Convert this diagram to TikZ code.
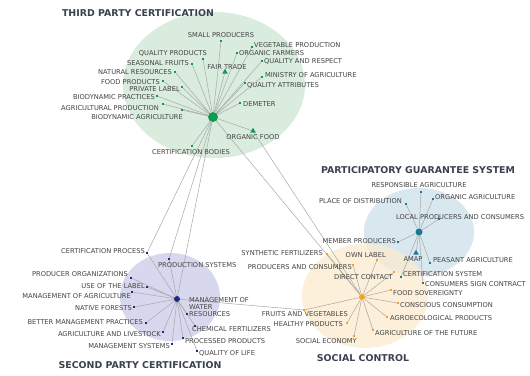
\documentclass[tikz,border=0pt]{standalone}
\usepackage{fontspec}
\setmainfont{DejaVu Sans}
\usetikzlibrary{shapes.geometric}
\definecolor{gfill}{HTML}{D9ECDE}
\definecolor{bfill}{HTML}{D9E7EF}
\definecolor{ofill}{HTML}{FDEBD0}
\definecolor{pfill}{HTML}{D7D8EE}
\definecolor{ghub}{HTML}{12994F}
\definecolor{bhub}{HTML}{1C7896}
\definecolor{ohub}{HTML}{F5A321}
\definecolor{phub}{HTML}{1E2A84}
\definecolor{edgec}{HTML}{A8A8A8}
\definecolor{labc}{HTML}{444444}
\definecolor{titc}{HTML}{3B4150}
\pgfdeclarelayer{bg}
\pgfdeclarelayer{edges}
\pgfsetlayers{bg,edges,main}
\tikzset{
  edge/.style={draw=edgec, line width=0.5pt},
  lbl/.style={inner sep=0pt, text=labc, font=\fontsize{6.7}{7}\selectfont, text height=4.9pt, text depth=0pt},
  ttl/.style={inner sep=0pt, text=titc, font=\fontsize{9.4}{11}\selectfont\bfseries},
  sq/.style={rectangle, inner sep=0pt, minimum size=1.9pt},
  gdot/.style={sq, fill=ghub},
  bdot/.style={sq, fill=bhub},
  odot/.style={sq, fill=ohub},
  pdot/.style={sq, fill=phub},
  hubnode/.style={circle, inner sep=0pt},
  tri/.style={regular polygon, regular polygon sides=3, inner sep=0pt, minimum size=6.5pt}
}
\begin{document}
\begin{tikzpicture}[x=1pt,y=-1pt]
\useasboundingbox (0,0) rectangle (530,375);
\begin{pgfonlayer}{bg}
\fill[white] (0,0) rectangle (530,375);
\fill[gfill] (214,85) ellipse [x radius=91, y radius=73];
\fill[bfill] (419,232) ellipse [x radius=55, y radius=44];
\fill[ofill, fill opacity=0.75] (365,296) ellipse [x radius=63, y radius=52];
\fill[pfill] (170,297) ellipse [x radius=50, y radius=44];
\end{pgfonlayer}

% titles
\node[ttl] (t1) at (138,13) {THIRD PARTY CERTIFICATION};
\node[ttl] (t2) at (418,170) {PARTICIPATORY GUARANTEE SYSTEM};
\node[ttl] (t3) at (140,365) {SECOND PARTY CERTIFICATION};
\node[ttl] (t4) at (363,358) {SOCIAL CONTROL};

% hubs
\node[hubnode, fill=ghub, minimum size=10pt] (G) at (213,117) {};
\node[hubnode, fill=bhub, minimum size=7pt] (B) at (419,232) {};
\node[hubnode, fill=ohub, minimum size=6pt] (O) at (362,297) {};
\node[hubnode, fill=phub, minimum size=6pt] (P) at (177,299) {};

% third party leaves
\node[gdot] (smallprod) at (221,41) {};
\node[lbl] (smallprod-l) at (221,35) {SMALL PRODUCERS};
\node[gdot] (vegprod) at (252,47) {};
\node[lbl, anchor=west] (vegprod-l) at (254,45) {VEGETABLE PRODUCTION};
\node[gdot] (orgfarm) at (237,53) {};
\node[lbl, anchor=west] (orgfarm-l) at (239,53) {ORGANIC FARMERS};
\node[gdot] (qualresp) at (262,61) {};
\node[lbl, anchor=west] (qualresp-l) at (264,61) {QUALITY AND RESPECT};
\node[gdot] (ministry) at (262,77) {};
\node[lbl, anchor=west] (ministry-l) at (265,75) {MINISTRY OF AGRICULTURE};
\node[gdot] (qualattr) at (245,83) {};
\node[lbl, anchor=west] (qualattr-l) at (247,85) {QUALITY ATTRIBUTES};
\node[tri, fill=ghub] (fairtrade) at (225,72) {};
\node[lbl] (fairtrade-l) at (227,67) {FAIR TRADE};
\node[gdot] (demeter) at (240,103) {};
\node[lbl, anchor=west] (demeter-l) at (243,104) {DEMETER};
\node[tri, fill=ghub] (orgfood) at (253,131) {};
\node[lbl] (orgfood-l) at (253,137) {ORGANIC FOOD};
\node[gdot] (qualprod) at (203,59) {};
\node[lbl, anchor=east] (qualprod-l) at (207,53) {QUALITY PRODUCTS};
\node[gdot] (seasonal) at (192,64) {};
\node[lbl, anchor=east] (seasonal-l) at (189,63) {SEASONAL FRUITS};
\node[gdot] (natres) at (175,72) {};
\node[lbl, anchor=east] (natres-l) at (172,72) {NATURAL RESOURCES};
\node[gdot] (foodprod) at (163,81) {};
\node[lbl, anchor=east] (foodprod-l) at (160,82) {FOOD PRODUCTS};
\node[gdot] (privlabel) at (182,87) {};
\node[lbl, anchor=east] (privlabel-l) at (180,89) {PRIVATE LABEL};
\node[gdot] (biopract) at (157,96) {};
\node[lbl, anchor=east] (biopract-l) at (155,97) {BIODYNAMIC PRACTICES};
\node[gdot] (agriprod) at (163,104) {};
\node[lbl, anchor=east] (agriprod-l) at (159,108) {AGRICULTURAL PRODUCTION};
\node[gdot] (bioagri) at (182,110) {};
\node[lbl, anchor=east] (bioagri-l) at (183,117) {BIODYNAMIC AGRICULTURE};
\node[gdot] (certbodies) at (192,146) {};
\node[lbl] (certbodies-l) at (191,152) {CERTIFICATION BODIES};

% participatory leaves
\node[bdot] (respagri) at (421,192) {};
\node[lbl] (respagri-l) at (419,185) {RESPONSIBLE AGRICULTURE};
\node[bdot] (orgagri) at (433,199) {};
\node[lbl, anchor=west] (orgagri-l) at (435,197) {ORGANIC AGRICULTURE};
\node[bdot] (placedist) at (406,204) {};
\node[lbl, anchor=east] (placedist-l) at (402,201) {PLACE OF DISTRIBUTION};
\node[bdot] (localpc) at (439,219) {};
\node[lbl, anchor=west] (localpc-l) at (396,217) {LOCAL PRODUCERS AND CONSUMERS};
\node[bdot] (memberprod) at (398,242) {};
\node[lbl, anchor=east] (memberprod-l) at (396,241) {MEMBER PRODUCERS};
\node[tri, fill=bhub] (amap) at (416,253) {};
\node[lbl] (amap-l) at (413,259) {AMAP};
\node[bdot] (peasant) at (430,263) {};
\node[lbl, anchor=west] (peasant-l) at (433,260) {PEASANT AGRICULTURE};
\node[bdot] (certsys) at (401,277) {};
\node[lbl, anchor=west] (certsys-l) at (403,274) {CERTIFICATION SYSTEM};
\node[bdot] (conssign) at (423,283) {};
\node[lbl, anchor=west] (conssign-l) at (425,284) {CONSUMERS SIGN CONTRACT};

% social control leaves
\node[odot] (ownlabel) at (377,260) {};
\node[lbl, anchor=east] (ownlabel-l) at (386,255) {OWN LABEL};
\node[odot] (directc) at (394,272) {};
\node[lbl, anchor=east] (directc-l) at (393,277) {DIRECT CONTACT};
\node[odot] (foodsov) at (391,290) {};
\node[lbl, anchor=west] (foodsov-l) at (393,293) {FOOD SOVEREIGNTY};
\node[odot] (conscious) at (398,303) {};
\node[lbl, anchor=west] (conscious-l) at (400,305) {CONSCIOUS CONSUMPTION};
\node[odot] (agroeco) at (387,317) {};
\node[lbl, anchor=west] (agroeco-l) at (390,318) {AGROECOLOGICAL PRODUCTS};
\node[odot] (agrifuture) at (373,330) {};
\node[lbl, anchor=west] (agrifuture-l) at (375,333) {AGRICULTURE OF THE FUTURE};
\node[odot] (socecon) at (354,336) {};
\node[lbl, anchor=east] (socecon-l) at (357,341) {SOCIAL ECONOMY};
\node[odot] (healthy) at (347,323) {};
\node[lbl, anchor=east] (healthy-l) at (343,324) {HEALTHY PRODUCTS};
\node[odot] (fruitsveg) at (304,310) {};
\node[lbl, anchor=east] (fruitsveg-l) at (348,314) {FRUITS AND VEGETABLES};
\node[odot] (prodcons) at (353,265) {};
\node[lbl, anchor=east] (prodcons-l) at (352,267) {PRODUCERS AND CONSUMERS};
\node[odot] (synthfert) at (327,254) {};
\node[lbl, anchor=east] (synthfert-l) at (323,253) {SYNTHETIC FERTILIZERS};

% second party leaves
\node[pdot] (certproc) at (147,253) {};
\node[lbl, anchor=east] (certproc-l) at (145,251) {CERTIFICATION PROCESS};
\node[pdot] (prodorg) at (131,278) {};
\node[lbl, anchor=east] (prodorg-l) at (128,274) {PRODUCER ORGANIZATIONS};
\node[pdot] (uselabel) at (147,287) {};
\node[lbl, anchor=east] (uselabel-l) at (145,286) {USE OF THE LABEL};
\node[pdot] (mgmtagri) at (132,292) {};
\node[lbl, anchor=east] (mgmtagri-l) at (131,296) {MANAGEMENT OF AGRICULTURE};
\node[pdot] (natfor) at (134,307) {};
\node[lbl, anchor=east] (natfor-l) at (132,308) {NATIVE FORESTS};
\node[pdot] (bettermgmt) at (146,323) {};
\node[lbl, anchor=east] (bettermgmt-l) at (143,322) {BETTER MANAGEMENT PRACTICES};
\node[pdot] (agrilive) at (163,332) {};
\node[lbl, anchor=east] (agrilive-l) at (161,334) {AGRICULTURE AND LIVESTOCK};
\node[pdot] (mgmtsys) at (172,344) {};
\node[lbl, anchor=east] (mgmtsys-l) at (170,346) {MANAGEMENT SYSTEMS};
\node[pdot] (prodsys) at (169,259) {};
\node[lbl, anchor=west] (prodsys-l) at (158,265) {PRODUCTION SYSTEMS};
\node[pdot] (water) at (187,314) {};
\node[lbl, anchor=west] (water-a) at (189,300) {MANAGEMENT OF};
\node[lbl, anchor=west] (water-b) at (189,307) {WATER};
\node[lbl, anchor=west] (water-c) at (189,314) {RESOURCES};
\node[pdot] (chemfert) at (195,326) {};
\node[lbl, anchor=west] (chemfert-l) at (192,329) {CHEMICAL FERTILIZERS};
\node[pdot] (procprod) at (183,338) {};
\node[lbl, anchor=west] (procprod-l) at (185,341) {PROCESSED PRODUCTS};
\node[pdot] (qualife) at (197,351) {};
\node[lbl, anchor=west] (qualife-l) at (199,353) {QUALITY OF LIFE};

\begin{pgfonlayer}{edges}
\foreach \n in {smallprod,vegprod,orgfarm,qualresp,ministry,qualattr,fairtrade,demeter,orgfood,qualprod,seasonal,natres,foodprod,privlabel,biopract,agriprod,bioagri,certbodies,certproc,prodsys,P,O}
  \draw[edge] (G) -- (\n);
\foreach \n in {respagri,orgagri,placedist,localpc,memberprod,amap,peasant,certsys,conssign}
  \draw[edge] (B) -- (\n);
\foreach \n in {ownlabel,directc,foodsov,conscious,agroeco,agrifuture,socecon,healthy,fruitsveg,prodcons,synthfert,orgfood}
  \draw[edge] (O) -- (\n);
\foreach \n in {certproc,prodorg,uselabel,mgmtagri,natfor,bettermgmt,agrilive,mgmtsys,prodsys,water,chemfert,procprod,qualife,fruitsveg}
  \draw[edge] (P) -- (\n);
\end{pgfonlayer}
\end{tikzpicture}
\end{document}
